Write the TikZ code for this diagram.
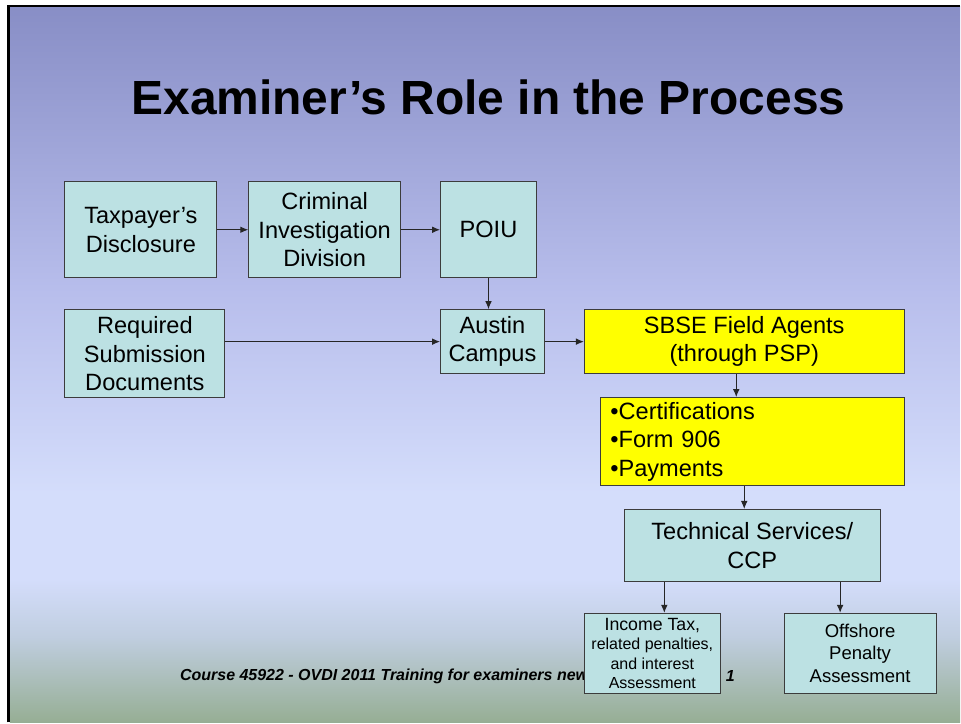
\documentclass[tikz,border=0pt]{standalone}
\usepackage{fontspec}
\setmainfont{Liberation Sans}
\usetikzlibrary{arrows,arrows.meta,positioning}

\definecolor{slidetop}{RGB}{136,142,198}
\definecolor{slidemid}{RGB}{184,190,236}
\definecolor{slidelight}{RGB}{212,221,251}
\definecolor{slidefade}{RGB}{192,206,224}
\definecolor{slidebottom}{RGB}{150,174,148}
\definecolor{boxteal}{RGB}{188,225,227}
\definecolor{boxline}{RGB}{60,60,60}
\definecolor{agentyellow}{RGB}{255,255,0}

\pgfdeclareverticalshading{slidebg}{100bp}{color(0bp)=(slidebottom); color(25bp)=(slidebottom); color(31bp)=(slidefade); color(35bp)=(slidelight); color(41bp)=(slidelight); color(55bp)=(slidemid); color(75bp)=(slidetop); color(100bp)=(slidetop)}

\begin{document}
\begin{tikzpicture}[x=0.75pt,y=-0.75pt]
% box shapes and colors
\tikzstyle{tealbox}=[draw=boxline,fill=boxteal,line width=0.75pt,inner sep=0pt,align=center,font=\fontsize{17.7}{21.4}\selectfont]
\tikzstyle{yellowbox}=[tealbox,fill=agentyellow]
\tikzstyle{flow}=[-{Latex[length=6pt,width=5pt]},draw=black!85,line width=0.75pt]

% slide background
\fill[white] (0,0) rectangle (961,723);
\shade[shading=slidebg] (10,7) rectangle (961,723);
\draw[line width=2.25pt] (8.5,723) -- (8.5,6);
\draw[line width=1.5pt] (7.4,6) -- (961,6);

% title and footer
\node[font=\bfseries\fontsize{36}{40}\selectfont] (title) at (489,97) {Examiner’s Role in the Process};
\node[anchor=west,inner sep=0pt,font=\bfseries\itshape\fontsize{12}{14}\selectfont] (course) at (180,677) {Course 45922 - OVDI 2011 Training for examiners new};
\node[font=\bfseries\itshape\fontsize{12}{14}\selectfont] (pagenum) at (731,677) {1};

% nodes
\node[tealbox,minimum width=114pt,minimum height=72pt] (tax) at (141,230) {Taxpayer’s\\Disclosure};
\node[tealbox,minimum width=114pt,minimum height=72pt] (cid) at (325,230) {Criminal\\Investigation\\Division};
\node[tealbox,minimum width=72pt,minimum height=72pt] (poiu) at (489,230) {POIU};
\node[tealbox,minimum width=120pt,minimum height=66pt] (req) at (145,354) {Required\\Submission\\Documents};
\node[tealbox,minimum width=78pt,minimum height=48pt] (aus) at (493,342) {Austin\\Campus};
\node[yellowbox,minimum width=240pt,minimum height=48pt] (sbse) at (745,342) {SBSE Field Agents\\(through PSP)};
\node[yellowbox,minimum height=66pt,text width=213pt,inner xsep=7.5pt,align=left] (pay) at (753,442) {•Certifications\\•Form 906\\•Payments};
\node[tealbox,minimum width=192pt,minimum height=54pt] (tech) at (753,546) {Technical Services/\\CCP};
\node[tealbox,minimum width=102pt,minimum height=60pt,font=\fontsize{12}{14.6}\selectfont] (inc) at (653,654) {{\fontsize{13.3}{14.6}\selectfont Income Tax,}\\related penalties,\\and interest\\Assessment};
\node[tealbox,minimum width=114pt,minimum height=60pt,font=\fontsize{13.9}{16.9}\selectfont] (off) at (861,654) {Offshore\\Penalty\\Assessment};

% arrows
\foreach \from/\to in {tax/cid,cid/poiu,aus/sbse}
\draw[flow] (\from) -- (\to);
\draw[flow] (poiu.south) -- (poiu.south |- aus.north);
\draw[flow] (req.east |- aus) -- (aus);
\draw[flow] ([xshift=-6pt]sbse.south) -- ([xshift=-6pt]sbse.south |- pay.north);
\draw[flow] ([xshift=-6pt]pay.south) -- ([xshift=-6pt]pay.south |- tech.north);
\draw[flow] ([xshift=9pt]inc.north |- tech.south) -- ([xshift=9pt]inc.north);
\draw[flow] ([xshift=-15pt]off.north |- tech.south) -- ([xshift=-15pt]off.north);
\end{tikzpicture}
\end{document}
